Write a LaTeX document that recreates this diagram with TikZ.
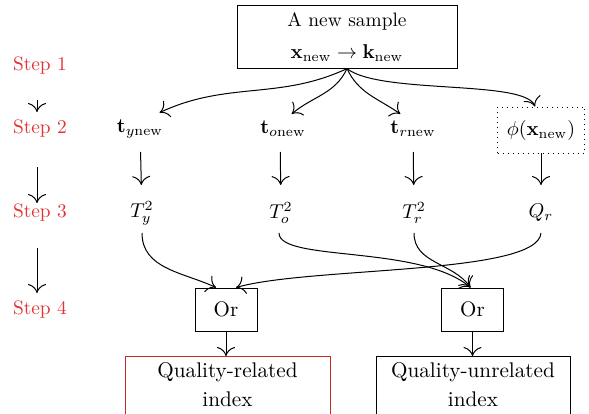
\documentclass[tikz,border=0pt]{standalone}
\usepackage{amsmath}
\usepackage{bm}
\usepackage{tikz}
\usetikzlibrary{arrows.meta,
  calc}
\usepackage{xcolor}
\definecolor{stepred}{RGB}{226,50,54}
\definecolor{boxred}{RGB}{200,40,40}

\begin{document}
\begin{tikzpicture}[x=0.5pt,y=0.5pt,line width=0.5pt,
    >={To[length=4.5pt,width=9pt]},
    every node/.style={font=\fontsize{9.7}{12}\selectfont},
    steplabel/.style={text=stepred},
    plainbox/.style={draw,align=center},
    orbox/.style={draw,minimum width=31pt,minimum height=21.5pt,inner sep=0pt,font=\fontsize{10.5}{12}\selectfont},
    indexbox/.style={draw,align=center,anchor=north,inner ysep=3pt,font=\fontsize{10.6}{12}\selectfont},
    colarrow/.style={->,shorten <=11.5pt,shorten >=14pt}]

      % Frame (bottom boxes run off the page)
      \clip (0,0) rectangle (589,-413);

      % Steps on the left:
      \node[steplabel] (s1) at (40,-66)  {Step 1};
      \node[steplabel] (s2) at (40,-129) {Step 2};
      \node[steplabel] (s3) at (40,-213) {Step 3};
      \node[steplabel] (s4) at (40,-310) {Step 4};
      \draw [->] ([shift={(-1.5pt,-17pt)}]s1.center) -- ([shift={(-1.5pt,8.5pt)}]s2.center);
      \draw [->] ([shift={(-1.5pt,-19pt)}]s2.center) -- ([shift={(-1.5pt,5pt)}]s3.center);
      \draw [->] ([shift={(-1.5pt,-17.5pt)}]s3.center) -- ([shift={(-1.5pt,8.5pt)}]s4.center);

      % The new sample
      \node[plainbox,minimum width=110pt,minimum height=31pt] (sample) at (347,-37)
        {A new sample\\[4pt] $\mathbf{x}_{\mathrm{new}} \rightarrow \mathbf{k}_{\mathrm{new}}$};

      % Step 2: scores
      \node (tyn) at (140,-129) {$\mathbf{t}_{y\mathrm{new}}$};
      \node (ton) at (283,-129) {$\mathbf{t}_{o\mathrm{new}}$};
      \node (trn) at (413,-129) {$\mathbf{t}_{r\mathrm{new}}$};
      \node[draw,dotted,minimum width=43.5pt,minimum height=23pt] (phi) at (541,-130)
        {$\phi(\mathbf{x}_{\mathrm{new}})$};

      \draw [->] (sample.south) to[out=-155,in=25] (tyn.40);
      \draw [->] (sample.south) to[out=-115,in=40] (ton.60);
      \draw [->] (sample.south) to[out=-65,in=145] (trn.130);
      \draw [->] (sample.south) .. controls +(33,-26) and +(-10,27) .. ([xshift=-3pt]phi.north);

      % Step 3: statistics
      \node (Ty) at (142,-213) {$T_y^2$};
      \node (To) at (281,-213) {$T_o^2$};
      \node (Tr) at (414,-213) {$T_r^2$};
      \node (Qr) at (541,-213) {$Q_r$};

      \draw [colarrow] (tyn.center) -- (Ty.center);
      \draw [colarrow] ([xshift=-1.5pt]ton.center) -- (To.center);
      \draw [colarrow] (trn.center) -- (Tr.center);
      \draw [colarrow] (phi.center) -- (Qr.center);

      % Step 4: logic
      \node[orbox] (orl) at (226,-309.5) {Or};
      \node[orbox] (orr) at (472.5,-309.5) {Or};

      \draw [->] ([yshift=-10pt]Ty.center) to[out=-90,in=155] ([xshift=-5pt]orl.north);
      \draw [->] ([yshift=-10pt]Qr.center) .. controls +(-3,-42) and +(74,21) .. ([xshift=5pt]orl.north);
      \draw [->] ([shift={(-1pt,-10pt)}]To.center) .. controls +(0,-29) and +(-51,43) .. ([xshift=-1pt]orr.north);
      \draw [->] ([yshift=-10pt]Tr.center) to[out=-90,in=125] ([xshift=-1pt]orr.north);

      % Indices
      \node[indexbox,draw=boxred,minimum width=102.5pt] (qrel) at (227.5,-356)
        {Quality-related\\[2.5pt] index\\[6pt]};
      \node[indexbox,minimum width=97pt] (qunrel) at (473,-356)
        {Quality-unrelated\\[2.5pt] index\\[6pt]};

      \draw [->] (orl.south) -- (orl.south |- qrel.north);
      \draw [->] (orr.south) -- (orr.south |- qunrel.north);
    \end{tikzpicture}
\end{document}
